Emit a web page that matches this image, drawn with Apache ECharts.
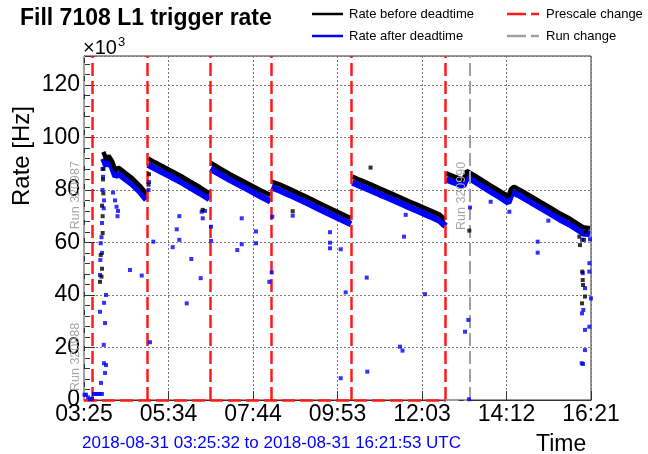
<!DOCTYPE html>
<html>
<head>
<meta charset="utf-8">
<script src="https://cdn.jsdelivr.net/npm/echarts@6/dist/echarts.min.js"></script>
<style>html,body{margin:0;padding:0;background:#fff}#c{width:648px;height:454px}</style>
</head>
<body>
<div id="c"></div>
<script>
// ---- data (time in minutes since 2018-08-31 03:25:32, rate in kHz) ----
const tickLabels = ['03:25','05:34','07:44','09:53','12:03','14:12','16:21'];
const xMax = 776.35; // 03:25:32 -> 16:21:53
const yTicks = [0,20,40,60,80,100,120];

const lineTimes = [29.6,34.5,37.5,42.9,48.2,52.8,62.8,73.5,85.8,95.7, null,
  98.0,108.7,131.7,147.0,162.3,177.6,192.2, null,
  193.7,208.3,223.6,238.9,254.2,269.5,285.6, null,
  287.1,300.1,315.4,330.8,346.1,361.4,376.7,392.0,408.9, null,
  410.9,422.6,438.0,453.3,468.6,483.9,499.2,514.5,529.8,545.1,553.6, null,
  554.8,568.1,580.8,586.0,598.7,621.7,637.0,649.7,653.9,658.5,667.6,683.0,698.3,713.6,728.9,744.2,758.0,764.1,774.8];
const rateBefore = [94.5,91.5,93.0,91.0,87.5,88.5,86.5,84.5,81.5,78.5, null,
  92.0,90.5,87.5,85.5,83.2,81.0,78.7, null,
  90.4,88.2,86.0,84.0,82.0,80.0,78.1, null,
  83.2,82.0,80.3,78.5,76.7,74.8,73.0,71.2,69.2, null,
  85.1,83.8,82.2,80.5,78.9,77.2,75.5,73.9,72.2,70.5,68.6, null,
  86.3,85.0,83.8,87.2,85.4,81.8,79.5,77.5,80.3,81.2,80.0,77.8,75.5,73.3,71.0,69.0,66.8,65.8,65.4];
const rateAfter = [92.0,89.2,90.8,88.8,85.2,86.2,84.3,82.3,79.3,76.3, null,
  89.6,88.2,85.3,83.3,81.0,78.8,76.5, null,
  88.0,86.0,83.8,81.8,79.8,77.7,75.6, null,
  81.0,79.8,78.1,76.3,74.5,72.6,70.8,69.0,67.0, null,
  82.8,81.6,80.0,78.3,76.7,75.0,73.3,71.7,70.0,68.2,66.2, null,
  84.0,82.8,81.5,85.0,83.2,79.6,77.3,75.2,78.0,79.0,77.8,75.6,73.3,71.1,68.8,66.8,64.6,63.6,63.2];

const afterOutlierTimes = [25.6,25.0,24.5,24.5,30.6,33.7,32.2,30.2,30.6,33.7,32.2,26.0,27.6,30.2,26.8,27.6,29.1,28.3,30.6,28.3,31.4,
  0.8,3.1,6.1,9.2,12.3,15.3,18.4,21.4,24.5,27.6,
  49.8,51.3,52.1,47.5,44.4,70.4,88.4,
  101.1,106.1,98.8,99.5,135.8,142.0,145.9,145.9,164.3,157.3,178.7,180.2,181.8,185.3,
  194.5,194.5,234.7,241.5,241.5,263.4,263.4,
  287.4,283.8,288.3,319.6,376.7,376.7,376.7,393.1,400.7,393.1,
  432.9,433.8,483.9,487.7,522.2,490.0,492.6,
  591.1,588.5,583.4,589.5,622.7,651.3,694.7,694.7,711.0,
  773.8,773.8,776.3,773.8,767.2,762.6,764.6,767.2,763.7,767.2,762.1,764.1,774.8,762.6,761.1,765.6];
const afterOutlierRates = [59.7,53.3,47.6,33.6,37.0,40.0,29.3,21.0,14.0,13.3,10.3,6.5,67.4,73.0,62.0,56.0,85.0,80.0,76.0,88.0,90.0,
  2.0,2.0,1.0,0.3,0.5,2.3,2.3,2.3,2.3,2.3,
  73.6,70.0,72.0,76.0,79.0,49.5,47.4,
  22.0,60.3,80.0,83.0,58.2,65.0,61.0,70.0,53.7,36.8,46.4,71.7,69.2,72.0,
  60.6,66.0,57.1,59.3,69.2,64.2,59.7,
  48.6,45.0,69.8,70.2,63.9,59.9,57.8,57.4,41.0,8.3,
  46.6,10.8,20.3,18.8,40.3,62.2,70.5,
  73.3,30.5,26.0,0.3,75.5,71.7,60.3,56.1,68.3,
  52.1,48.9,38.7,27.9,26.7,33.0,34.3,42.6,48.3,19.0,14.0,13.7,61.2,61.0,64.0,63.0];

const beforeOutlierTimes = [28.6,28.6,25.6,24.5,29.6,27.6,29.1,29.9,27.6,26.8,
  98.8,99.5,181.8,319.6,438.8,590.0,
  758.5,759.5,763.0,763.7,764.1,762.6,767.2,765.6,768.7];
const beforeOutlierRates = [70.0,63.6,55.2,45.0,78.7,74.0,84.0,88.0,50.0,47.0,
  82.0,86.0,72.4,71.9,88.5,64.5,
  62.2,59.0,48.9,45.7,43.8,36.8,39.4,61.0,64.0];

const prescaleTimes = [13.3, 96.9, 192.9, 286.4, 409.9, 553.9];
const runChangeTimes = [0, 0, 590.0];
const runNames = ['Run 320987', 'Run 320988', 'Run 320990'];
</script>
<script>
const xStep = xMax / 6;
const FONT = 'Liberation Sans, Arial, Helvetica, sans-serif';
const pairs = (ts, vs) => ts.map((t, i) => (t === null || vs[i] === null) ? ['-', '-'] : [t, vs[i]]);

const chart = echarts.init(document.getElementById('c'), null, {renderer: 'canvas', width: 648, height: 454});

const redDash = {color: '#ff1a1a', width: 2.5, type: [13, 5]};
const greyDash = {color: '#a0a0a0', width: 2, type: [13, 5]};

const markData = [];
prescaleTimes.forEach(t => markData.push({xAxis: t, lineStyle: redDash}));
runChangeTimes.forEach(t => markData.push({xAxis: t, lineStyle: greyDash}));
markData.push([{coord: [0, 0], lineStyle: redDash}, {coord: [prescaleTimes[prescaleTimes.length - 1], 0]}]);
markData.push([{coord: [prescaleTimes[prescaleTimes.length - 1], 0], lineStyle: greyDash}, {coord: [runChangeTimes[2], 0]}]);

chart.setOption({
  animation: false,
  backgroundColor: '#fff',
  textStyle: {fontFamily: FONT},
  grid: {left: 84, right: 57, top: 56, bottom: 54, show: true, borderColor: '#333', borderWidth: 1},
  xAxis: {
    type: 'value', min: 0, max: xMax, interval: xStep,
    axisLine: {show: true, onZero: false, lineStyle: {color: '#333', width: 1}},
    axisTick: {show: true, inside: true, length: 9, lineStyle: {color: '#333'}},
    axisLabel: {fontSize: 23, color: '#000', margin: 3, fontFamily: FONT,
      formatter: v => tickLabels[Math.round(v / xStep)] || ''},
    splitLine: {show: true, lineStyle: {type: [2, 2], color: '#777', width: 1}}
  },
  yAxis: {
    type: 'value', min: 0, max: 131, interval: 20,
    axisLine: {show: true, onZero: false, lineStyle: {color: '#333', width: 1}},
    axisTick: {show: true, inside: true, length: 11, lineStyle: {color: '#333'}},
    minorTick: {show: true, splitNumber: 5, length: 6, lineStyle: {color: '#333'}},
    axisLabel: {fontSize: 23, color: '#000', margin: 4, fontFamily: FONT, showMaxLabel: false,
      formatter: v => (yTicks.indexOf(v) >= 0 ? String(v) : '')},
    splitLine: {show: true, lineStyle: {type: [2, 2], color: '#777', width: 1}}
  },
  series: [
    {type: 'line', name: 'marks', data: [], silent: true, z: 1,
      markLine: {silent: true, symbol: 'none', label: {show: false}, animation: false, data: markData}},
    {type: 'line', name: 'Rate after deadtime', data: pairs(lineTimes, rateAfter), showSymbol: false,
      connectNulls: false, lineStyle: {color: '#0000ff', width: 6.5}, itemStyle: {color: '#0000ff'}, z: 3},
    {type: 'line', name: 'Rate before deadtime', data: pairs(lineTimes, rateBefore), showSymbol: false,
      connectNulls: false, lineStyle: {color: '#000', width: 4.5}, itemStyle: {color: '#000'}, z: 4},
    {type: 'scatter', data: pairs(afterOutlierTimes, afterOutlierRates), symbol: 'rect', symbolSize: 4,
      itemStyle: {color: '#0000ff'}, z: 5},
    {type: 'scatter', data: pairs(beforeOutlierTimes, beforeOutlierRates), symbol: 'rect', symbolSize: 4,
      itemStyle: {color: '#000'}, z: 6}
  ]
});

// run labels, placed just left of their run-change lines
const runLabelLevels = [78, 16.4, 77.7];
const runLabels = runChangeTimes.map((t, i) => {
  const p = chart.convertToPixel({gridIndex: 0}, [t, runLabelLevels[i]]);
  return {type: 'text', x: p[0] - 8, y: p[1], rotation: Math.PI / 2, z: 10,
    style: {text: runNames[i], fill: '#a8a8a8', fontSize: 12.5, fontFamily: FONT, align: 'center', verticalAlign: 'middle'}};
});

chart.setOption({
  graphic: [
    {type: 'text', x: 20, y: 19, style: {text: 'Fill 7108 L1 trigger rate', fontSize: 23, fontWeight: 'bold', fill: '#000', fontFamily: FONT, verticalAlign: 'middle'}},
    {type: 'line', shape: {x1: 312, y1: 14, x2: 343, y2: 14}, style: {stroke: '#000', lineWidth: 2.5}},
    {type: 'text', x: 349, y: 14, style: {text: 'Rate before deadtime', fontSize: 13, fill: '#000', fontFamily: FONT, verticalAlign: 'middle'}},
    {type: 'line', shape: {x1: 312, y1: 36, x2: 343, y2: 36}, style: {stroke: '#0000ff', lineWidth: 2.5}},
    {type: 'text', x: 349, y: 36, style: {text: 'Rate after deadtime', fontSize: 13, fill: '#000', fontFamily: FONT, verticalAlign: 'middle'}},
    {type: 'line', shape: {x1: 507, y1: 14, x2: 539, y2: 14}, style: {stroke: '#ff1a1a', lineWidth: 2.5, lineDash: [19, 5]}},
    {type: 'text', x: 546, y: 14, style: {text: 'Prescale change', fontSize: 13, fill: '#000', fontFamily: FONT, verticalAlign: 'middle'}},
    {type: 'line', shape: {x1: 507, y1: 36, x2: 539, y2: 36}, style: {stroke: '#a0a0a0', lineWidth: 2.5, lineDash: [19, 5]}},
    {type: 'text', x: 546, y: 36, style: {text: 'Run change', fontSize: 13, fill: '#000', fontFamily: FONT, verticalAlign: 'middle'}},
    {type: 'text', x: 83, y: 48, style: {text: '×10', fontSize: 20, fill: '#000', fontFamily: FONT, verticalAlign: 'middle'}},
    {type: 'text', x: 118, y: 42, style: {text: '3', fontSize: 13, fill: '#000', fontFamily: FONT, verticalAlign: 'middle'}},
    {type: 'text', x: 22, y: 156, rotation: Math.PI / 2, style: {text: 'Rate [Hz]', fontSize: 24, fill: '#000', fontFamily: FONT, align: 'center', verticalAlign: 'middle'}},
    {type: 'text', x: 536, y: 445, style: {text: 'Time', fontSize: 23, fill: '#000', fontFamily: FONT, verticalAlign: 'middle'}},
    {type: 'text', x: 82, y: 443, style: {text: '2018-08-31 03:25:32 to 2018-08-31 16:21:53 UTC', fontSize: 17, fill: '#0000ff', fontFamily: FONT, verticalAlign: 'middle'}}
  ].concat(runLabels)
});
</script>
</body>
</html>
